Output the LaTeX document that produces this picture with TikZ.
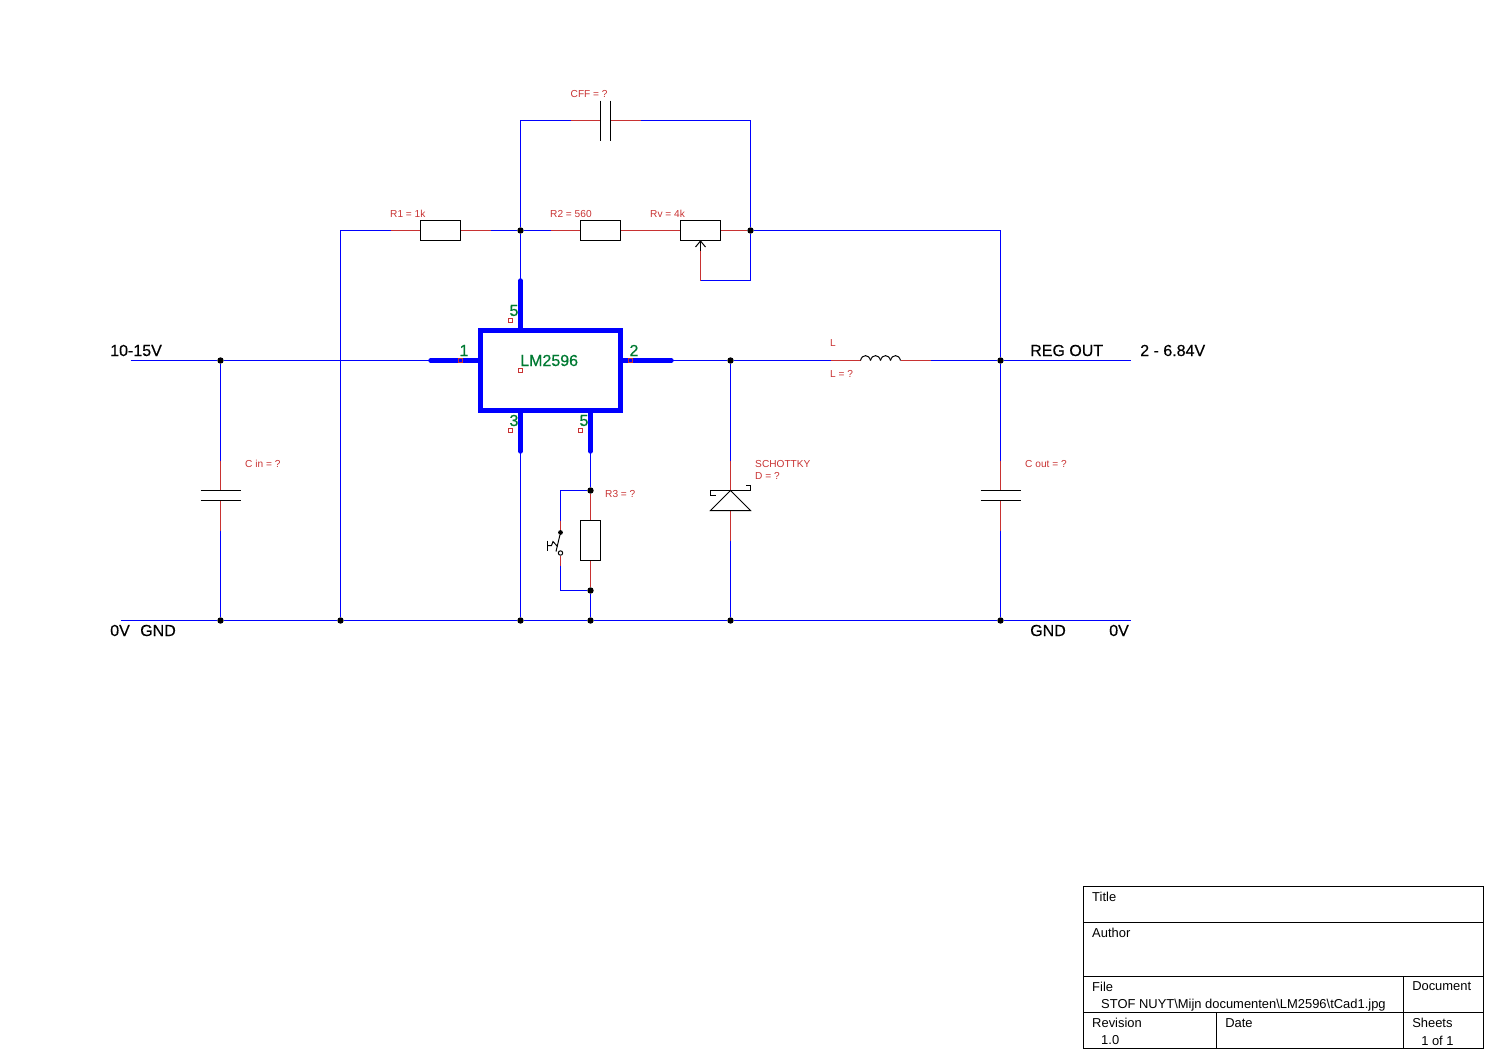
\documentclass[tikz,border=0pt]{standalone}
\usepackage{fontspec}
\setmainfont{Liberation Sans}
\newfontfamily\heavyfont[FakeBold=0.25]{Liberation Sans}
\newfontfamily\icfont[FakeBold=0.6]{Liberation Sans}
\usetikzlibrary{backgrounds}
\definecolor{wireblue}{RGB}{0,0,255}
\definecolor{pinred}{RGB}{200,50,50}
\definecolor{icgreen}{RGB}{0,122,50}
\tikzset{
  wire/.style={color=wireblue,line width=0.75pt},
  lead/.style={color=pinred,line width=0.75pt},
  part/.style={color=black,line width=0.75pt},
  icbody/.style={draw=wireblue,line width=3.3pt,minimum width=105pt,minimum height=60pt,inner sep=0pt},
  icpin/.style={color=wireblue,line width=3.3pt,line cap=round},
  resbox/.style={draw=black,line width=0.75pt,minimum width=30pt,minimum height=15pt,inner sep=0pt},
  resboxv/.style={draw=black,line width=0.75pt,minimum width=15pt,minimum height=30pt,inner sep=0pt},
  junction/.style={circle,fill=black,inner sep=0pt,minimum size=4.8pt},
  pinmark/.style={draw=pinred,line width=0.75pt,inner sep=0pt,minimum size=3pt},
  biglabel/.style={anchor=west,inner sep=0pt,xshift=-0.4pt,font=\heavyfont\fontsize{12}{14}\selectfont},
  iclabel/.style={inner sep=0pt,text=icgreen,xshift=-0.4pt,font=\icfont\fontsize{12}{14}\selectfont},
  redlabel/.style={anchor=west,inner sep=0pt,xshift=-0.4pt,text=pinred,font=\fontsize{7.6}{9}\selectfont},
  blocklabel/.style={anchor=west,inner sep=0pt,xshift=-0.4pt,font=\fontsize{9.7}{11}\selectfont}
}

\begin{document}
\begin{tikzpicture}[x=0.75pt,y=0.75pt,yscale=-1,xscale=1]
\useasboundingbox (-0.5,-0.5) rectangle (1494.5,1059.5);

% Junctions
\node[junction] (jIn) at (220,360) {};
\node[junction] (jInG) at (220,620) {};
\node[junction] (jFbG) at (340,620) {};
\node[junction] (jIcG) at (520,620) {};
\node[junction] (jResG) at (590,620) {};
\node[junction] (jDioG) at (730,620) {};
\node[junction] (jOutG) at (1000,620) {};
\node[junction] (jFb) at (520,230) {};
\node[junction] (jRv) at (750,230) {};
\node[junction] (jDio) at (730,360) {};
\node[junction] (jOut) at (1000,360) {};
\node[junction] (jResT) at (590,490) {};
\node[junction] (jResB) at (590,590) {};
\node[junction,minimum size=3.6pt] (jSw) at (560,532) {};

% Parts
\node[icbody] (IC) at (550,370) {};
\node[resbox] (Rone) at (440,230) {};
\node[resbox] (Rtwo) at (600,230) {};
\node[resbox] (Rv) at (700,230) {};
\node[resboxv] (Rthree) at (590,540) {};

% Free ends and bends
\coordinate (inL) at (130,360);
\coordinate (outR) at (1130,360);
\coordinate (gndL) at (120,620);
\coordinate (gndR) at (1130,620);
\coordinate (fbTop) at (340,230);
\coordinate (outTop) at (1000,230);
\coordinate (ronePin) at (390,230);
\coordinate (ronePinB) at (490,230);
\coordinate (rtwoPin) at (550,230);
\coordinate (cffL) at (520,120);
\coordinate (cffR) at (750,120);
\coordinate (cffA) at (570,120);
\coordinate (cffP) at (600,120);
\coordinate (cffQ) at (610,120);
\coordinate (cffB) at (640,120);
\coordinate (rvStem) at (700,250);
\coordinate (rvFoot) at (700,280);
\coordinate (rvCorner) at (750,280);
\coordinate (pinOneA) at (430,360);
\coordinate (pinOneB) at (480,360);
\coordinate (pinTwoA) at (620,360);
\coordinate (pinTwoB) at (671,360);
\coordinate (pinTopA) at (520,280);
\coordinate (pinTopB) at (520,330);
\coordinate (pinGndA) at (520,410);
\coordinate (pinGndB) at (520,451);
\coordinate (pinFivA) at (590,410);
\coordinate (pinFivB) at (590,451);
\coordinate (swTop) at (560,490);
\coordinate (swRed) at (560,520);
\coordinate (swRedB) at (560,555);
\coordinate (swBlue) at (560,565);
\coordinate (swFoot) at (560,590);
\coordinate (swHole) at (560,552.5);
\coordinate (cinA) at (220,460);
\coordinate (cinP) at (220,490);
\coordinate (cinQ) at (220,500);
\coordinate (cinB) at (220,530);
\coordinate (coutA) at (1000,460);
\coordinate (coutP) at (1000,490);
\coordinate (coutQ) at (1000,500);
\coordinate (coutB) at (1000,530);
\coordinate (dioA) at (730,460);
\coordinate (dioP) at (730,490);
\coordinate (dioQ) at (730,510);
\coordinate (dioB) at (730,540);
\coordinate (indA) at (830,360);
\coordinate (indP) at (860,360);
\coordinate (indQ) at (900,360);
\coordinate (indB) at (930,360);

\begin{scope}[on background layer]
%Straight Lines
\draw[wire] (inL) -- (jIn) -- (pinOneA);
\draw[wire] (pinTwoB) -- (jDio) -- (indA);
\draw[wire] (indB) -- (jOut) -- (outR);
\draw[wire] (gndL) -- (jInG) -- (jFbG) -- (jIcG) -- (jResG) -- (jDioG) -- (jOutG) -- (gndR);
\draw[wire] (jFbG) -- (fbTop) -- (ronePin);
\draw[wire] (ronePinB) -- (jFb) -- (rtwoPin);
\draw[wire] (jRv) -- (outTop) -- (jOut);
\draw[wire] (jFb) -- (cffL) -- (cffA);
\draw[wire] (cffB) -- (cffR) -- (jRv) -- (rvCorner) -- (rvFoot);
\draw[wire] (jFb) -- (pinTopA);
\draw[wire] (pinGndB) -- (jIcG);
\draw[wire] (pinFivB) -- (jResT);
\draw[wire] (jResB) -- (jResG);
\draw[wire] (jResT) -- (swTop) -- (swRed);
\draw[wire] (swBlue) -- (swFoot) -- (jResB);
\draw[wire] (jIn) -- (cinA);
\draw[wire] (cinB) -- (jInG);
\draw[wire] (jOut) -- (coutA);
\draw[wire] (coutB) -- (jOutG);
\draw[wire] (jDio) -- (dioA);
\draw[wire] (dioB) -- (jDioG);
%Red leads
\draw[lead] (ronePin) -- (Rone.west);
\draw[lead] (Rone.east) -- (ronePinB);
\draw[lead] (rtwoPin) -- (Rtwo.west);
\draw[lead] (Rtwo.east) -- (Rv.west);
\draw[lead] (Rv.east) -- (jRv);
\draw[lead] (rvFoot) -- (rvStem);
\draw[lead] (cffA) -- (cffP);
\draw[lead] (cffQ) -- (cffB);
\draw[lead] (jResT) -- (Rthree.north);
\draw[lead] (Rthree.south) -- (jResB);
\draw[lead] (swRed) -- (jSw);
\draw[lead] (swRedB) -- (swBlue);
\draw[lead] (cinA) -- (cinP);
\draw[lead] (cinQ) -- (cinB);
\draw[lead] (coutA) -- (coutP);
\draw[lead] (coutQ) -- (coutB);
\draw[lead] (dioA) -- (dioP);
\draw[lead] (dioQ) -- (dioB);
\draw[lead] (indA) -- (indP);
\draw[lead] (indQ) -- (indB);
%IC pins
\draw[icpin] (pinOneA) -- (pinOneB);
\draw[icpin] (pinTwoA) -- (pinTwoB);
\draw[icpin] (pinTopA) -- (pinTopB);
\draw[icpin] (pinGndA) -- (pinGndB);
\draw[icpin] (pinFivA) -- (pinFivB);
\end{scope}

%Capacitors
\draw[part] (cffP) ++(0,-20) -- ++(0,40);
\draw[part] (cffQ) ++(0,-20) -- ++(0,40);
\draw[part] (cinP) ++(-20,0) -- ++(40,0);
\draw[part] (cinQ) ++(-20,0) -- ++(40,0);
\draw[part] (coutP) ++(-20,0) -- ++(40,0);
\draw[part] (coutQ) ++(-20,0) -- ++(40,0);

%Wiper of the pot
\draw[part] (rvStem) -- (Rv.south);
\draw[part] (Rv.south) ++(-5,6) -- (Rv.south) -- ++(5,6);

%Schottky
\draw[part] (dioP) ++(-15,5) -- ++(-5,0) -- ++(0,-5) -- ++(40,0) -- ++(0,-5) -- ++(-5,0);
\draw[part] (dioP) -- ++(20,20) -- ++(-40,0) -- cycle;

%Inductor
\foreach \hx in {860,870,880,890}
  \draw[part] (\hx,360) .. controls (\hx+1.5,353.5) and (\hx+8.5,353.5) .. (\hx+10,360);

%Switch
\draw[part] (jSw) -- (555.5,551);
\draw[part] (swHole) circle (2.2);
\draw[part] (547,540) -- (547,550);
\draw[part] (547,545) -- (551,545) -- (552.5,541) -- (557,546);

%IC pin marks
\node[pinmark] (markTop) at (510,320) {};
\node[pinmark] (markOne) at (460,360) {};
\node[pinmark] (markTwo) at (630,360) {};
\node[pinmark] (markGnd) at (510,430) {};
\node[pinmark] (markFiv) at (580,430) {};
\node[pinmark] (markIc) at (520,370) {};

% Text Node
\node[iclabel,anchor=west] (lblIc) at (520,360) {LM2596};
\node[iclabel] (lblTop) at (514,310) {5};
\node[iclabel] (lblOne) at (464,350) {1};
\node[iclabel] (lblTwo) at (634,350) {2};
\node[iclabel] (lblGnd) at (514,420) {3};
\node[iclabel] (lblFiv) at (584,420) {5};
% Text Node
\node[biglabel] (lblIn) at (110,350) {10-15V};
\node[biglabel] (lblZeroL) at (110,630) {0V};
\node[biglabel] (lblGndL) at (140,630) {GND};
\node[biglabel] (lblReg) at (1030,350) {REG OUT};
\node[biglabel] (lblOutV) at (1140,350) {2 - 6.84V};
\node[biglabel] (lblGndR) at (1030,630) {GND};
\node[biglabel] (lblZeroR) at (1109,630) {0V};
% Text Node
\node[redlabel] (lblCff) at (570.5,93.5) {CFF = ?};
\node[redlabel] (lblRone) at (390,213.5) {R1 = 1k};
\node[redlabel] (lblRtwo) at (550,213.5) {R2 = 560};
\node[redlabel] (lblRv) at (650,213.5) {Rv = 4k};
\node[redlabel] (lblL) at (830,343) {L};
\node[redlabel] (lblLval) at (830,373) {L = ?};
\node[redlabel] (lblCin) at (245,463.5) {C in = ?};
\node[redlabel] (lblCout) at (1025,463.5) {C out = ?};
\node[redlabel] (lblSch) at (755,463.5) {SCHOTTKY};
\node[redlabel] (lblD) at (755,475) {D = ?};
\node[redlabel] (lblRthree) at (605,493.5) {R3 = ?};

%Title block
\draw[part] (1083,886) rectangle (1483,1048);
\draw[part] (1083,922) -- (1483,922);
\draw[part] (1083,976) -- (1483,976);
\draw[part] (1083,1012) -- (1483,1012);
\draw[part] (1403,976) -- (1403,1048);
\draw[part] (1216,1012) -- (1216,1048);
% Text Node
\node[blocklabel] (lblTitle) at (1092,896) {Title};
\node[blocklabel] (lblAuthor) at (1092,932) {Author};
\node[blocklabel] (lblFile) at (1092,986) {File};
\node[blocklabel] (lblPath) at (1101,1004.5) {STOF NUYT\textbackslash Mijn documenten\textbackslash LM2596\textbackslash tCad1.jpg};
\node[blocklabel] (lblDoc) at (1412,986) {Document};
\node[blocklabel] (lblRev) at (1092,1022) {Revision};
\node[blocklabel] (lblRevNo) at (1101,1040) {1.0};
\node[blocklabel] (lblDate) at (1225,1022.5) {Date};
\node[blocklabel] (lblSheets) at (1412,1022) {Sheets};
\node[blocklabel] (lblSheetNo) at (1421,1040) {1 of 1};

\end{tikzpicture}
\end{document}
